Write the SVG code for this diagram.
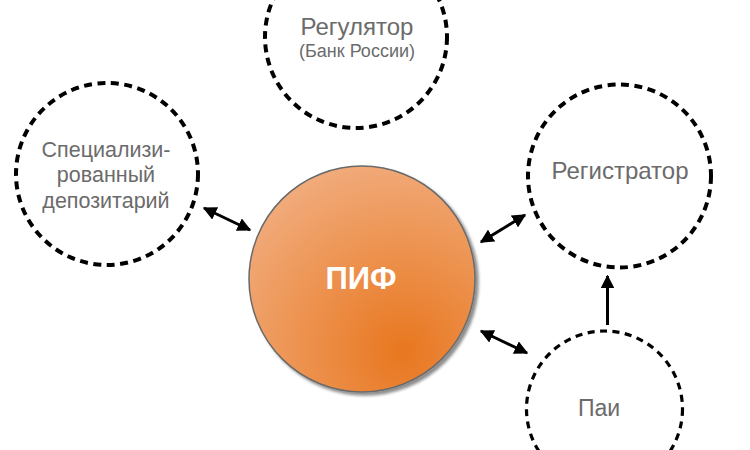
<svg xmlns="http://www.w3.org/2000/svg" width="750" height="450" viewBox="0 0 750 450">
<defs>
<radialGradient id="orange" cx="0.68" cy="0.82" r="0.95" fx="0.68" fy="0.82">
<stop offset="0" stop-color="#e8771f"/>
<stop offset="1" stop-color="#f2b084"/>
</radialGradient>
<filter id="shadow" x="-20%" y="-20%" width="140%" height="140%">
<feGaussianBlur in="SourceAlpha" stdDeviation="1.5"/>
<feOffset dx="3" dy="3"/>
<feComponentTransfer><feFuncA type="linear" slope="0.45"/></feComponentTransfer>
<feMerge><feMergeNode/><feMergeNode in="SourceGraphic"/></feMerge>
</filter>
<marker id="ah" viewBox="0 0 10 10" refX="9" refY="5" markerWidth="4.6" markerHeight="4.6" orient="auto-start-reverse" markerUnits="strokeWidth">
<path d="M0,0 L10,5 L0,10 z" fill="#000"/>
</marker>
</defs>
<style>
.dash{fill:none;stroke:#000;stroke-width:4;stroke-dasharray:8 5.5}
.dash2{fill:none;stroke:#000;stroke-width:3.2;stroke-dasharray:7 5.5}
.lbl{font-family:"Liberation Sans",Arial,sans-serif;fill:#6b6b6b;text-anchor:middle}
.arr{stroke:#000;stroke-width:3;fill:none}
</style>
<rect width="750" height="450" fill="#fff"/>
<g id="node-regulator">
<circle class="dash" cx="356" cy="37" r="91"/>
<text class="lbl" x="357" y="35" font-size="24">Регулятор</text>
<text class="lbl" x="357" y="57" font-size="18">(Банк России)</text>
</g>
<g id="node-depositary">
<circle class="dash" cx="107" cy="174" r="91"/>
<text class="lbl" x="106" y="157" font-size="21.5">Специализи-</text>
<text class="lbl" x="106" y="182" font-size="21.5">рованный</text>
<text class="lbl" x="106" y="208" font-size="21.5">депозитарий</text>
</g>
<g id="node-registrar">
<circle class="dash" cx="619.5" cy="176" r="91.5"/>
<text class="lbl" x="620" y="179" font-size="24">Регистратор</text>
</g>
<g id="node-pai">
<circle class="dash2" cx="604.5" cy="409" r="78"/>
<text class="lbl" x="599" y="416" font-size="23">Паи</text>
</g>
<g id="node-pif">
<circle cx="362" cy="279" r="113" fill="url(#orange)" stroke="#6a6a6a" stroke-width="1.5" filter="url(#shadow)"/>
<text x="361" y="289" font-family="Liberation Sans,Arial,sans-serif" font-weight="bold" font-size="31" fill="#fff" text-anchor="middle">ПИФ</text>
</g>
<g id="connectors">
<line class="arr" x1="204" y1="208" x2="250" y2="230" marker-start="url(#ah)" marker-end="url(#ah)"/>
<line class="arr" x1="481" y1="242" x2="525" y2="215" marker-start="url(#ah)" marker-end="url(#ah)"/>
<line class="arr" x1="481" y1="331" x2="527" y2="353" marker-start="url(#ah)" marker-end="url(#ah)"/>
<line class="arr" x1="607.5" y1="325" x2="607.5" y2="276" marker-end="url(#ah)"/>
</g>
</svg>
